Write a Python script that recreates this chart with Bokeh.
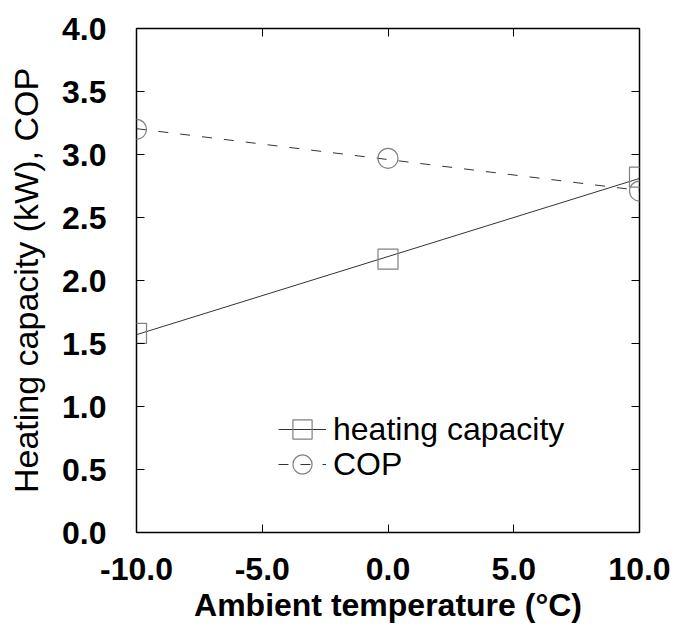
import numpy as np
from bokeh.plotting import figure
from bokeh.models import LinearAxis, FixedTicker, Legend, LegendItem, Range1d
from bokeh.embed import file_html
from bokeh.resources import INLINE

# ---- data ----
temps = [-10.0, 0.0, 10.0]
heating_capacity = [1.58, 2.17, 2.82]
cop = [3.20, 2.97, 2.71]

x_ticks = [-10, -5, 0, 5, 10]
x_tick_labels = ["-10.0", "-5.0", "0.0", "5.0", "10.0"]
y_ticks = [0.0, 0.5, 1.0, 1.5, 2.0, 2.5, 3.0, 3.5, 4.0]
y_tick_labels = ["0.0", "0.5", "1.0", "1.5", "2.0", "2.5", "3.0", "3.5", "4.0"]

series_names = ["heating capacity", "COP"]
x_title = "Ambient temperature (\u00b0C)"
y_title = "Heating capacity (kW), COP"

FONT = "Liberation Sans"

p = figure(width=675, height=631, output_backend="svg", toolbar_location=None,
           x_range=Range1d(-10, 10), y_range=Range1d(0, 4),
           x_axis_location=None, y_axis_location=None,
           min_border_left=136, min_border_right=36, min_border_top=28, min_border_bottom=99)
p.grid.visible = False
p.outline_line_color = "black"
p.outline_line_width = 1.5
p.background_fill_color = "white"
p.border_fill_color = "white"

def style_axis(ax, show_labels):
    ax.axis_line_color = None
    ax.major_tick_in = 8
    ax.major_tick_out = 0
    ax.major_tick_line_color = "black"
    ax.major_tick_line_width = 1
    ax.minor_tick_line_color = None
    if not show_labels:
        ax.major_label_text_font_size = "1px"
        ax.major_label_standoff = 0

xb = LinearAxis(ticker=FixedTicker(ticks=x_ticks))
xb.major_label_overrides = dict(zip(x_ticks, x_tick_labels))
style_axis(xb, True)
xb.major_label_text_font = FONT
xb.major_label_text_font_size = "32px"
xb.major_label_text_font_style = "bold"
xb.major_label_text_color = "black"
xb.major_label_standoff = 25
xb.axis_label = x_title
xb.axis_label_text_font = FONT
xb.axis_label_text_font_size = "32px"
xb.axis_label_text_font_style = "bold"
xb.axis_label_text_color = "black"
xb.axis_label_standoff = 4
p.add_layout(xb, "below")

yl = LinearAxis(ticker=FixedTicker(ticks=y_ticks))
yl.major_label_overrides = dict(zip(y_ticks, y_tick_labels))
style_axis(yl, True)
yl.major_label_text_font = FONT
yl.major_label_text_font_size = "32px"
yl.major_label_text_font_style = "bold"
yl.major_label_text_color = "black"
yl.major_label_standoff = 30
yl.axis_label = y_title
yl.axis_label_text_font = FONT
yl.axis_label_text_font_size = "34px"
yl.axis_label_text_font_style = "normal"
yl.axis_label_text_color = "black"
yl.axis_label_standoff = 14
p.add_layout(yl, "left")

xt = LinearAxis(ticker=FixedTicker(ticks=x_ticks))
xt.major_label_overrides = {t: "" for t in x_ticks}
style_axis(xt, False)
p.add_layout(xt, "above")

yr = LinearAxis(ticker=FixedTicker(ticks=y_ticks))
yr.major_label_overrides = {t: "" for t in y_ticks}
style_axis(yr, False)
p.add_layout(yr, "right")

# linear fits through the data points
x_fit = [min(temps), max(temps)]
hc_fit = list(np.polyval(np.polyfit(temps, heating_capacity, 1), x_fit))
cop_fit = list(np.polyval(np.polyfit(temps, cop, 1), x_fit))

marker_color = "#808080"
hl = p.line(x_fit, hc_fit, line_color="#333333", line_width=1)
cl = p.line(x_fit, cop_fit, line_color="#333333", line_width=1, line_dash="10 12")
hs = p.scatter(temps, heating_capacity, marker="square", size=20,
               line_color=marker_color, line_width=1.2, fill_color=None)
cs = p.scatter(temps, cop, marker="circle", size=20,
               line_color=marker_color, line_width=1.2, fill_color=None)

def make_legend(label, renderers, loc):
    return Legend(items=[LegendItem(label=label, renderers=renderers)],
                  location=loc, orientation="vertical",
                  glyph_width=48, glyph_height=50, spacing=0, padding=0, margin=0,
                  label_standoff=7, label_text_font=FONT, label_text_font_size="32px",
                  label_text_color="black",
                  border_line_color=None, background_fill_alpha=0)

p.add_layout(make_legend(series_names[0], [hl, hs], (142, 78)))
p.add_layout(make_legend(series_names[1], [cl, cs], (142, 43)))

open("out.html", "w").write(file_html(p, INLINE))
